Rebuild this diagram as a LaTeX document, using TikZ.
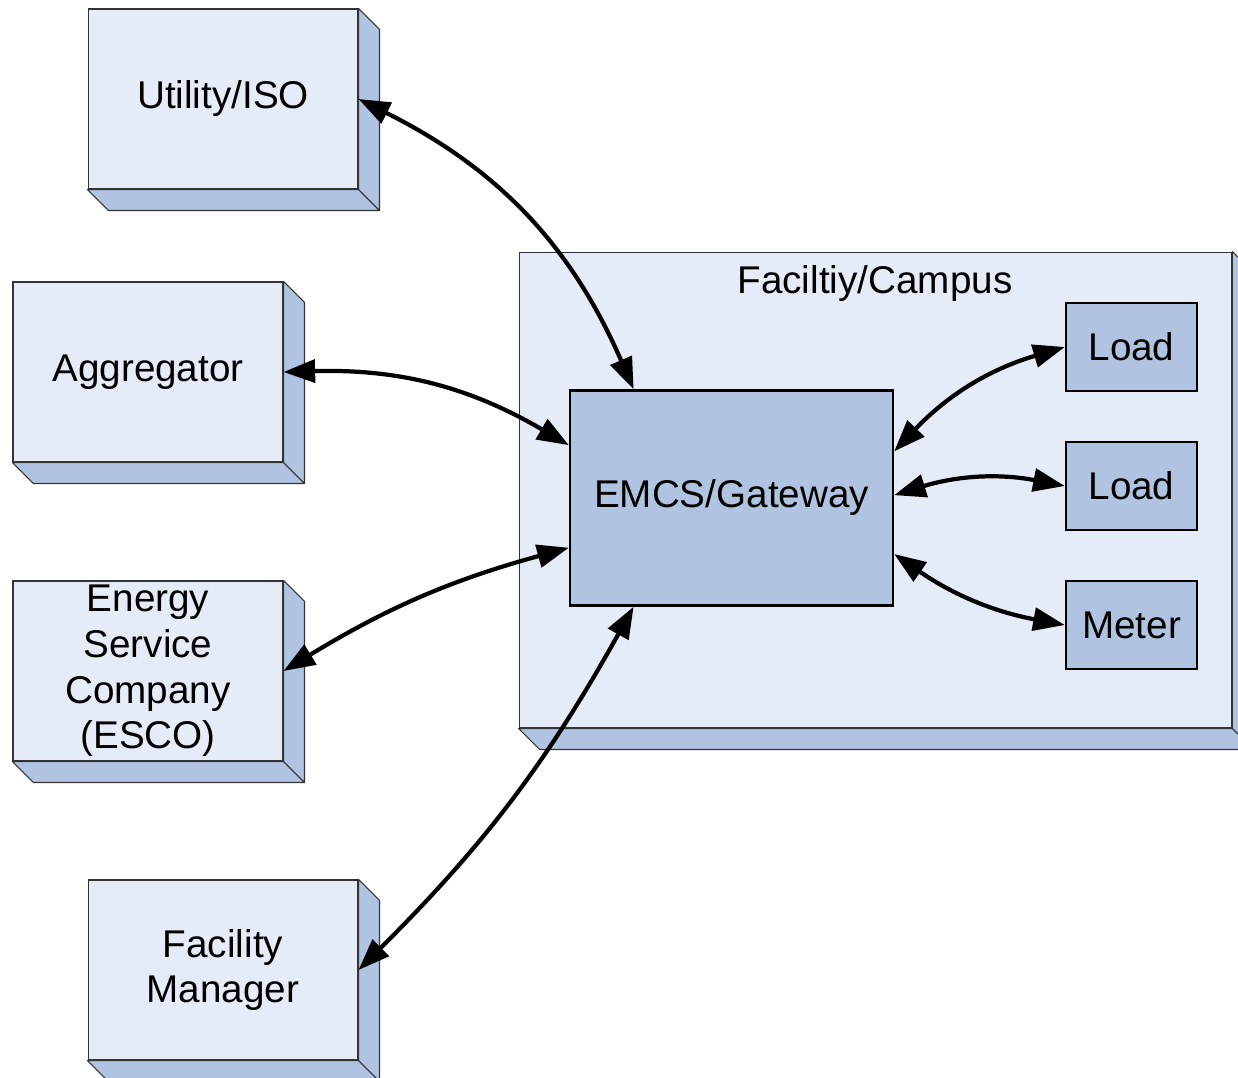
\documentclass[tikz,border=0pt]{standalone}
\usepackage{fontspec}
\setmainfont{Liberation Sans}
\usetikzlibrary{arrows.meta, calc}
\definecolor{paleblue}{HTML}{E6ECF7}
\definecolor{steelblue}{HTML}{B0C4E2}
\tikzset{
  labelfont/.style={font=\fontsize{22}{26}\selectfont},
  face/.style={draw=black!80, line width=0.6pt, fill=paleblue, minimum width=5.4cm,
    minimum height=3.6cm, align=center, inner sep=0pt, labelfont},
  depthface/.style={draw=black!80, line width=0.6pt, fill=steelblue, line join=round},
  unit/.style={draw=black, line width=1.4pt, fill=steelblue, inner sep=0pt, labelfont},
  link/.style={line width=2.4pt, {Triangle[length=18pt,width=13pt]}-{Triangle[length=18pt,width=13pt]}}
}

\begin{document}
\begin{tikzpicture}[x=0.02cm, y=-0.02cm]
    \useasboundingbox (0,0) rectangle (1238,1078);

    % Facility/Campus (large box, back)
    \node (campus) at (875.5,490) [face, minimum width=14.26cm, minimum height=9.52cm] {};
    \node (campustitle) at (875,284) [labelfont] {Faciltiy/Campus};

    % Outside parties
    \node (util) at (223,99) [face] {Utility/ISO};
    \node (aggr) at (148,372) [face] {Aggregator};
    \node (esco) at (148,671) [face] {Energy\\Service\\Company\\(ESCO)};
    \node (fman) at (223,970) [face] {Facility\\Manager};

    % Depth (side and bottom faces)
    \foreach \b in {campus,util,aggr,esco,fman} {
        \draw[depthface] (\b.north east) -- ++(21,21) -- ($(\b.south east)+(21,21)$) -- (\b.south east) -- cycle;
        \draw[depthface] (\b.south west) -- ++(21,21) -- ($(\b.south east)+(21,21)$) -- (\b.south east) -- cycle;
    }

    % Gateway and devices inside the campus
    \node (emcs) at (731.5,498) [unit, minimum width=6.46cm, minimum height=4.3cm] {EMCS/Gateway};
    \node (load1) at (1131.5,347) [unit, minimum width=2.62cm, minimum height=1.76cm] {Load};
    \node (load2) at (1131.5,486) [unit, minimum width=2.62cm, minimum height=1.76cm] {Load};
    \node (meter) at (1131.5,625) [unit, minimum width=2.62cm, minimum height=1.76cm] {Meter};

    % Two-way links
    \draw[link] (util.east) to[bend left=20] (emcs.132);
    \draw[link] (aggr.east) to[bend left=16] (emcs.162);
    \draw[link] (esco.east) to[bend left=8] (emcs.197);
    \draw[link] (fman.east) to[bend right=8] (emcs.228);
    \draw[link] (emcs.16) to[bend left=15] (load1.west);
    \draw[link] (emcs.1) to[bend left=14] (load2.west);
    \draw[link] (emcs.341) to[bend right=12] (meter.west);
\end{tikzpicture}
\end{document}
